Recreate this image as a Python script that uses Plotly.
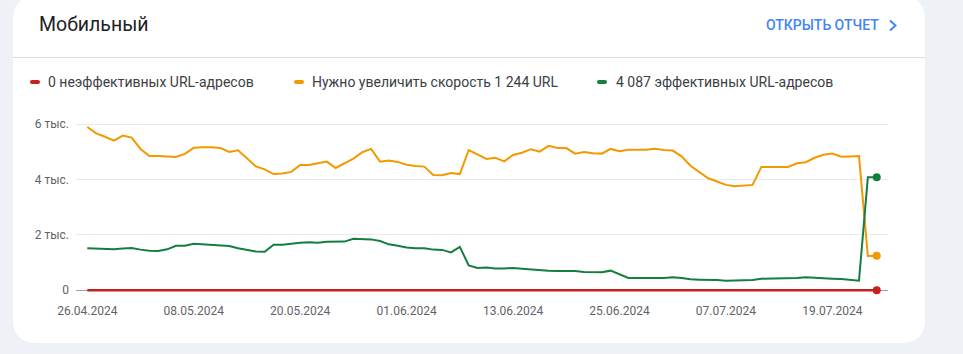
import pandas as pd
import plotly.graph_objects as go

# ---------------- data ----------------
start_date = "2024-04-26"
n_days = 90
dates = pd.date_range(start_date, periods=n_days, freq="D")

poor_urls = [0] * n_days

needs_improvement = [
    5900, 5670, 5550, 5410, 5590, 5520, 5110, 4850, 4850, 4840,
    4820, 4930, 5150, 5170, 5170, 5140, 5000, 5060, 4770, 4480,
    4370, 4200, 4220, 4280, 4530, 4530, 4590, 4650, 4420, 4590,
    4760, 4990, 5110, 4650, 4690, 4640, 4540, 4490, 4470, 4170,
    4160, 4240, 4200, 5070, 4920, 4750, 4790, 4660, 4890, 4970,
    5100, 5010, 5220, 5140, 5140, 4940, 5000, 4950, 4940, 5110,
    5030, 5080, 5080, 5080, 5120, 5070, 5050, 4840, 4500, 4260,
    4050, 3930, 3810, 3760, 3790, 3810, 4460, 4460, 4460, 4460,
    4590, 4630, 4790, 4900, 4940, 4830, 4840, 4850, 1240, 1244,
]

good_urls = [
    1520, 1510, 1480, 1480, 1510, 1530, 1470, 1430, 1420, 1480,
    1610, 1610, 1680, 1660, 1650, 1630, 1600, 1520, 1450, 1400,
    1390, 1650, 1650, 1690, 1720, 1740, 1720, 1750, 1750, 1760,
    1860, 1840, 1840, 1780, 1660, 1610, 1550, 1520, 1520, 1470,
    1460, 1370, 1570, 900, 810, 820, 790, 790, 810, 780,
    750, 720, 710, 700, 700, 700, 660, 650, 650, 710,
    580, 445, 445, 433, 445, 445, 469, 445, 397, 385,
    385, 373, 349, 361, 373, 373, 421, 421, 421, 421,
    445, 469, 445, 445, 421, 409, 373, 349, 4085, 4087,
]

y_tick_vals = [0, 2000, 4000, 6000]
y_tick_text = ["0", "2 тыс.", "4 тыс.", "6 тыс."]

title_text = "Мобильный"
link_text = "ОТКРЫТЬ ОТЧЕТ"
legend_labels = [
    "0 неэффективных URL-адресов",
    "Нужно увеличить скорость 1 244 URL",
    "4 087 эффективных URL-адресов",
]

# ---------------- styles ----------------
RED = "#c5221f"
ORANGE = "#f29900"
GREEN = "#137e3e"
PAGE_BG = "#eef1f6"
FONT = "Roboto, Arial, sans-serif"

W, H = 963, 354
L, R, T, B = 76, 75, 121, 61
PW, PH = W - L - R, H - T - B


def px(x):
    return (x - L) / PW


def py(y):
    return (H - B - y) / PH


fig = go.Figure()

series = [
    (poor_urls, RED, 2.6),
    (needs_improvement, ORANGE, 2.0),
    (good_urls, GREEN, 2.0),
]
for vals, col, w in series:
    fig.add_trace(go.Scatter(
        x=dates, y=vals, mode="lines",
        line=dict(color=col, width=w), showlegend=False,
        hoverinfo="skip", cliponaxis=False,
    ))
    fig.add_trace(go.Scatter(
        x=[dates[-1]], y=[vals[-1]], mode="markers",
        marker=dict(color=col, size=8), showlegend=False,
        hoverinfo="skip", cliponaxis=False,
    ))

shapes = []

# card with rounded corners
x0, x1, y0, y1, r = 13, 925, -4, 343, 24
path = (
    f"M {px(x0 + r)},{py(y0)} L {px(x1 - r)},{py(y0)} "
    f"Q {px(x1)},{py(y0)} {px(x1)},{py(y0 + r)} "
    f"L {px(x1)},{py(y1 - r)} Q {px(x1)},{py(y1)} {px(x1 - r)},{py(y1)} "
    f"L {px(x0 + r)},{py(y1)} Q {px(x0)},{py(y1)} {px(x0)},{py(y1 - r)} "
    f"L {px(x0)},{py(y0 + r)} Q {px(x0)},{py(y0)} {px(x0 + r)},{py(y0)} Z"
)
shapes.append(dict(type="path", xref="paper", yref="paper", path=path,
                   fillcolor="white", line=dict(width=0), layer="below"))

# separator
shapes.append(dict(type="line", xref="paper", yref="paper",
                   x0=px(13), x1=px(925), y0=py(57.5), y1=py(57.5),
                   line=dict(color="#dadce0", width=1), layer="below"))

# chevron
shapes.append(dict(type="path", xref="paper", yref="paper",
                   path=f"M {px(890)},{py(20.5)} L {px(895.5)},{py(25.5)} L {px(890)},{py(30.5)}",
                   line=dict(color="#4285f4", width=2)))

# legend swatches
for xs, col in [(30, RED), (294, ORANGE), (597, GREEN)]:
    ya, yb, xa, xb, rr = 80, 84, xs, xs + 10, 2
    p = (
        f"M {px(xa + rr)},{py(ya)} L {px(xb - rr)},{py(ya)} "
        f"Q {px(xb)},{py(ya)} {px(xb)},{py(ya + rr)} "
        f"Q {px(xb)},{py(yb)} {px(xb - rr)},{py(yb)} "
        f"L {px(xa + rr)},{py(yb)} Q {px(xa)},{py(yb)} {px(xa)},{py(ya + rr)} "
        f"Q {px(xa)},{py(ya)} {px(xa + rr)},{py(ya)} Z"
    )
    shapes.append(dict(type="path", xref="paper", yref="paper", path=p,
                       fillcolor=col, line=dict(width=0)))

annotations = [
    dict(text=title_text, x=px(37), y=py(24.5), xref="paper", yref="paper",
         xanchor="left", yanchor="middle", showarrow=False,
         font=dict(family=FONT, size=19.5, color="#202124")),
    dict(text=link_text, x=px(881), y=py(25), xref="paper", yref="paper",
         xanchor="right", yanchor="middle", showarrow=False,
         font=dict(family=FONT, size=14, color="#4285f4", weight=500)),
]
for xs, lab in zip([46, 310, 614], legend_labels):
    annotations.append(dict(text=lab, x=px(xs), y=py(82), xref="paper", yref="paper",
                            xanchor="left", yanchor="middle", showarrow=False,
                            font=dict(family=FONT, size=14, color="#3c4043")))

start = pd.Timestamp(start_date)
x_range = [start - pd.Timedelta(days=1.274), start + pd.Timedelta(days=90.27)]

fig.update_layout(
    width=W, height=H,
    margin=dict(l=L, r=R, t=T, b=B),
    paper_bgcolor=PAGE_BG, plot_bgcolor="white",
    font=dict(family=FONT),
    shapes=shapes, annotations=annotations,
    xaxis=dict(
        type="date", range=x_range, tick0=start_date, dtick=12 * 86400000,
        tickformat="%d.%m.%Y", showgrid=False, zeroline=False, showline=False,
        ticks="outside", ticklen=7, tickcolor="rgba(0,0,0,0)",
        tickfont=dict(family=FONT, size=12, color="#5f6368"),
    ),
    yaxis=dict(
        range=[-98, 6119], tickvals=y_tick_vals, ticktext=y_tick_text,
        showgrid=True, gridcolor="#e8eaed", gridwidth=1,
        zeroline=True, zerolinecolor="#9aa0a6", zerolinewidth=1,
        showline=False, ticks="", ticklabelstandoff=6,
        tickfont=dict(family=FONT, size=12, color="#5f6368"),
    ),
)

fig.write_html("out.html")
